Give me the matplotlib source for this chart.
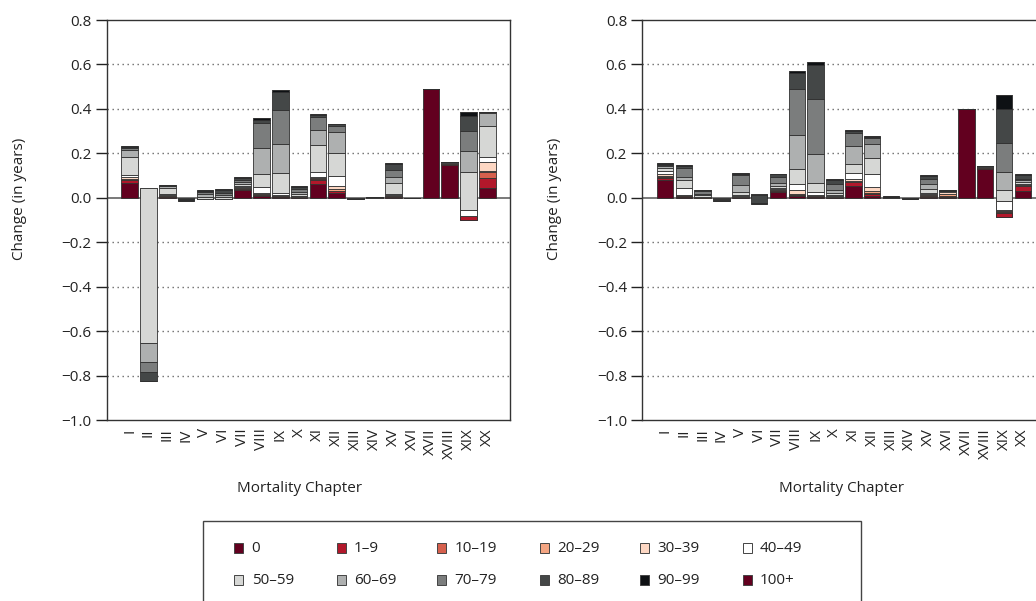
import numpy as np
import matplotlib
matplotlib.use("Agg")
import matplotlib.pyplot as plt
from matplotlib.patches import Rectangle
from matplotlib.ticker import FuncFormatter, FixedLocator

plt.rcParams['font.family'] = ['Open Sans', 'DejaVu Sans']

# ---------------- data ----------------
chapters = ["I", "II", "III", "IV", "V", "VI", "VII", "VIII", "IX", "X",
            "XI", "XII", "XIII", "XIV", "XV", "XVI", "XVII", "XVIII", "XIX", "XX"]
age_groups = ["0", "1–9", "10–19", "20–29", "30–39", "40–49",
              "50–59", "60–69", "70–79", "80–89", "90–99", "100+"]
age_colors = ["#62001f", "#b2182b", "#d6604d", "#f4a582", "#fdd7c3", "#ffffff",
              "#d6d7d5", "#aeb0b0", "#7b7d7d", "#444747", "#0e1114", "#62001f"]

# left panel: contribution by age group (chapters I..XX)
left_a0     = [0.068, 0.005, 0.004, -0.001, -0.002, -0.003, 0.033, 0.008, 0.004, 0.002, 0.060, 0.022, -0.001, 0.000, 0.003, -0.002, 0.488, 0.148, -0.098, 0.044]
left_a1_9   = [0.010, 0.002, 0.001, 0.000, -0.001, -0.001, 0.005, 0.003, 0.002, 0.001, 0.022, 0.007, 0.000, 0.000, 0.002, 0.000, 0.002, 0.004, 0.018, 0.047]
left_a10_19 = [0.003, 0.002, 0.001, 0.000, -0.001, -0.001, 0.002, 0.002, 0.001, 0.001, 0.004, 0.003, 0.000, 0.000, 0.002, 0.000, 0.000, 0.002, 0.000, 0.023]
left_a20_29 = [0.004, 0.005, 0.002, 0.000, -0.001, -0.001, 0.003, 0.003, 0.002, 0.001, 0.004, 0.008, 0.000, 0.000, 0.002, 0.000, 0.000, 0.002, 0.000, 0.005]
left_a30_39 = [0.008, 0.010, 0.003, 0.000, -0.001, -0.001, 0.004, 0.004, 0.003, 0.002, 0.004, 0.013, 0.000, 0.000, 0.003, 0.000, 0.000, 0.002, 0.000, 0.040]
left_a40_49 = [0.010, 0.020, 0.004, -0.001, 0.000, 0.002, 0.005, 0.030, 0.008, 0.003, 0.020, 0.045, 0.000, 0.000, 0.004, 0.000, 0.000, 0.001, 0.026, 0.025]
left_a50_59 = [0.080, -0.697, 0.030, -0.001, 0.010, 0.008, 0.010, 0.057, 0.090, 0.008, 0.123, 0.102, -0.001, 0.001, 0.052, 0.000, 0.000, 0.001, 0.169, 0.137]
left_a60_69 = [0.033, -0.085, 0.006, -0.001, 0.012, 0.008, 0.010, 0.117, 0.130, 0.010, 0.067, 0.095, -0.001, 0.001, 0.024, 0.000, 0.000, 0.001, 0.096, 0.060]
left_a70_79 = [0.008, -0.045, 0.003, -0.003, 0.010, 0.010, 0.010, 0.112, 0.155, 0.012, 0.060, 0.028, -0.001, 0.001, 0.032, 0.000, 0.000, 0.001, 0.091, 0.003]
left_a80_89 = [0.006, -0.040, 0.002, -0.004, 0.006, 0.012, 0.008, 0.016, 0.079, 0.010, 0.010, 0.008, -0.002, 0.000, 0.027, 0.000, 0.000, 0.000, 0.068, 0.003]
left_a90_99 = [0.002, -0.002, 0.001, -0.002, 0.002, 0.005, 0.004, 0.006, 0.009, 0.004, 0.005, 0.003, 0.000, 0.000, 0.005, 0.000, 0.000, 0.000, 0.015, 0.001]
left_a100   = [0.000, 0.000, 0.000, 0.000, 0.000, 0.000, 0.001, 0.001, 0.000, 0.000, 0.000, 0.000, 0.000, 0.000, 0.000, 0.000, 0.000, 0.000, 0.002, 0.000]

# right panel
right_a0     = [0.080, 0.003, 0.001, -0.001, 0.002, 0.001, 0.028, 0.008, 0.004, 0.002, 0.054, 0.010, 0.001, -0.001, 0.003, 0.003, 0.398, 0.128, -0.085, 0.030]
right_a1_9   = [0.010, 0.006, 0.000, 0.000, 0.001, 0.000, 0.004, 0.003, 0.002, 0.001, 0.015, 0.006, 0.000, 0.000, 0.002, 0.001, 0.002, 0.004, 0.016, 0.024]
right_a10_19 = [0.004, 0.001, 0.000, 0.000, 0.001, 0.000, 0.002, 0.002, 0.001, 0.001, 0.004, 0.006, 0.000, 0.000, 0.003, 0.004, 0.000, 0.003, 0.004, 0.003]
right_a20_29 = [0.003, 0.001, 0.001, 0.000, 0.001, 0.001, 0.002, 0.005, 0.002, 0.001, 0.004, 0.010, 0.000, 0.000, 0.003, 0.008, 0.000, 0.002, 0.004, 0.002]
right_a30_39 = [0.010, 0.002, 0.001, 0.000, 0.002, 0.002, 0.003, 0.015, 0.003, 0.002, 0.008, 0.017, 0.000, 0.000, 0.004, 0.012, 0.000, 0.002, 0.006, 0.002]
right_a40_49 = [0.014, 0.030, 0.002, 0.000, 0.004, 0.003, 0.006, 0.030, 0.015, 0.006, 0.025, 0.060, 0.000, 0.000, 0.008, 0.003, 0.000, 0.001, 0.040, 0.003]
right_a50_59 = [0.012, 0.037, 0.006, -0.001, 0.015, 0.005, 0.010, 0.068, 0.040, 0.010, 0.040, 0.068, 0.000, 0.000, 0.015, 0.001, 0.000, 0.001, 0.052, 0.007]
right_a60_69 = [0.010, 0.015, 0.008, -0.002, 0.031, 0.006, 0.012, 0.150, 0.128, 0.010, 0.083, 0.063, 0.001, -0.001, 0.022, 0.000, 0.000, 0.001, 0.080, 0.007]
right_a70_79 = [0.006, 0.037, 0.010, -0.004, 0.045, -0.004, 0.025, 0.210, 0.248, 0.030, 0.057, 0.027, 0.001, -0.001, 0.025, 0.000, 0.000, 0.000, 0.128, 0.008]
right_a80_89 = [0.004, 0.012, 0.006, -0.006, 0.006, -0.036, 0.014, 0.071, 0.154, 0.017, 0.010, 0.008, 0.002, -0.002, 0.013, 0.002, 0.000, 0.000, 0.153, 0.018]
right_a90_99 = [0.002, 0.004, 0.002, -0.002, 0.002, -0.006, 0.003, 0.009, 0.012, 0.004, 0.005, 0.003, 0.001, -0.001, 0.004, 0.000, 0.000, 0.000, 0.065, 0.003]
right_a100   = [0.000] * 20

left_series = [left_a0, left_a1_9, left_a10_19, left_a20_29, left_a30_39, left_a40_49,
               left_a50_59, left_a60_69, left_a70_79, left_a80_89, left_a90_99, left_a100]
right_series = [right_a0, right_a1_9, right_a10_19, right_a20_29, right_a30_39, right_a40_49,
                right_a50_59, right_a60_69, right_a70_79, right_a80_89, right_a90_99, right_a100]

yticks = [-1.0, -0.8, -0.6, -0.4, -0.2, 0.0, 0.2, 0.4, 0.6, 0.8]

# ---------------- figure ----------------
W, H = 1036, 601
FS = 11
fig = plt.figure(figsize=(W / 100, H / 100), dpi=100)

def px_axes(left, top, width, height):
    return fig.add_axes([left / W, (H - top - height) / H, width / W, height / H])

ax_l = px_axes(107, 20, 403, 400)
ax_r = px_axes(642.4, 20, 403, 400)

x = np.arange(len(chapters))
fmt = FuncFormatter(lambda v, p: f"{v:.1f}".replace("-", "\u2212"))

for ax, series, xlab_x in ((ax_l, left_series, 0.478), (ax_r, right_series, 0.495)):
    cum = np.zeros(len(chapters))
    for vals, col in zip(series, age_colors):
        vals = np.asarray(vals, dtype=float)
        ax.bar(x, vals, bottom=cum, width=0.88, color=col, edgecolor="#303030",
               linewidth=0.6, zorder=3)
        cum = cum + vals
    ax.set_xlim(-1.2, 20.2)
    ax.set_ylim(-1.0, 0.8)
    ax.yaxis.set_major_locator(FixedLocator(yticks))
    ax.yaxis.set_major_formatter(fmt)
    for g in yticks:
        if g in (0.8, -1.0, 0.0):
            continue
        ax.axhline(g, color="#6a6a6a", linewidth=1.0, linestyle=(0, (1, 2.6)), zorder=1)
    ax.axhline(0.0, color="#555555", linewidth=1.1, zorder=2)
    ax.set_xticks(x)
    ax.set_xticklabels(chapters, rotation=90, fontsize=FS, color="#222222")
    ax.tick_params(axis="x", length=0, pad=6)
    ax.tick_params(axis="y", length=8, width=1.0, pad=3, labelsize=FS,
                   colors="#222222", direction="out")
    for s in ax.spines.values():
        s.set_color("#333333")
        s.set_linewidth(1.0)
    ax.set_ylabel("Change (in years)", fontsize=FS, color="#222222")
    ax.yaxis.set_label_coords(-0.1985, 0.5525)
    ax.set_xlabel("Mortality Chapter", fontsize=FS, color="#222222")
    ax.xaxis.set_label_coords(xlab_x, -0.152)

# ---------------- legend (manual, in pixel coordinates) ----------------
def fx(px):
    return px / W

def fy(py):
    return (H - py) / H

fig.add_artist(Rectangle((fx(203), fy(612)), fx(861) - fx(203), fy(521) - fy(612),
                         transform=fig.transFigure, facecolor="white",
                         edgecolor="#444444", linewidth=1.0, clip_on=False))
col_x = [234.3, 336.7, 437.3, 540.0, 640.0, 742.5]
row_y = [547.5, 580.0]
for i, (lab, col) in enumerate(zip(age_groups, age_colors)):
    r, c = divmod(i, 6)
    mx, my = col_x[c], row_y[r]
    fig.add_artist(Rectangle((fx(mx), fy(my + 5)), 9 / W, 10 / H,
                             transform=fig.transFigure, facecolor=col,
                             edgecolor="#444444", linewidth=0.7))
    fig.text(fx(mx + 17.4), fy(my + 0.5), lab, fontsize=FS, color="#222222",
             ha="left", va="center")

fig.savefig("out.png", dpi=100)
